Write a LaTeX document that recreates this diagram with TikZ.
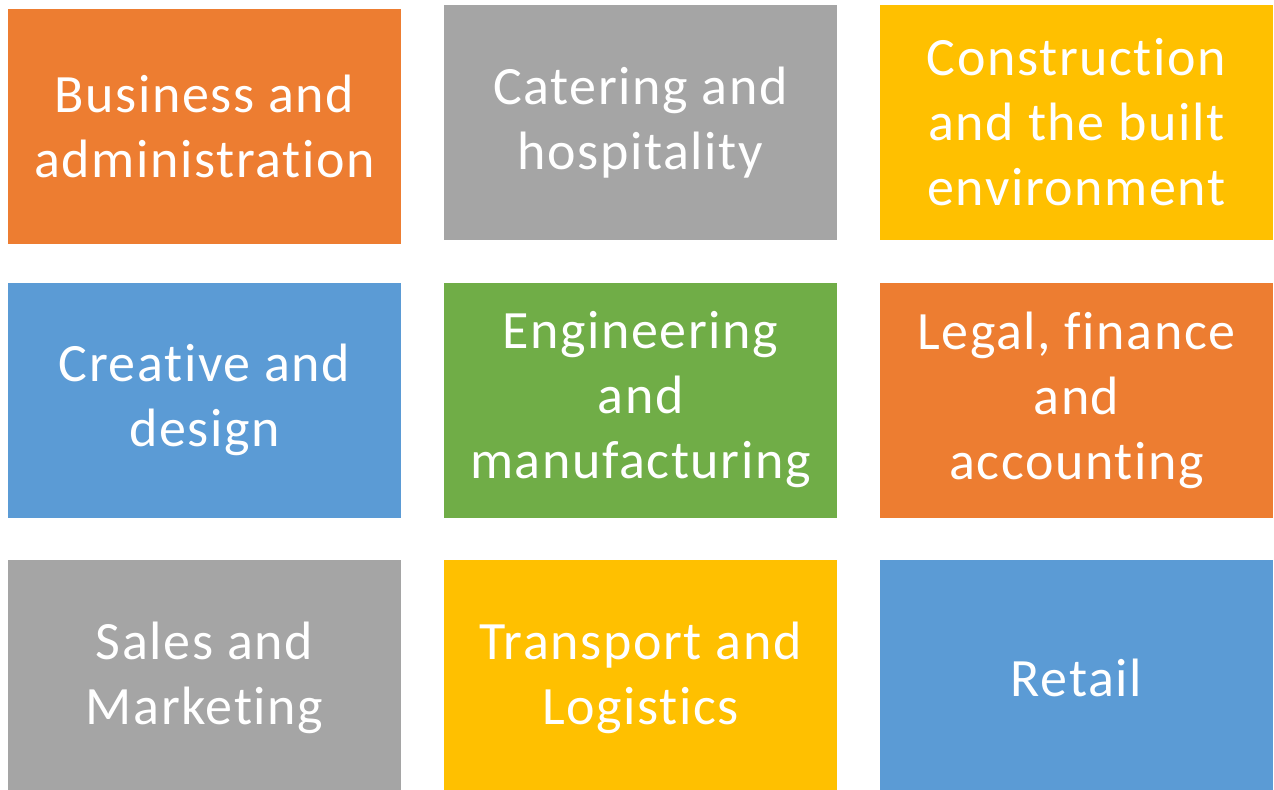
\documentclass[tikz,border=0pt]{standalone}
\usepackage{fontspec}
\setmainfont{Carlito}[Ligatures=NoCommon,LetterSpace=3]
\definecolor{accorange}{HTML}{ED7D31}
\definecolor{accgray}{HTML}{A5A5A5}
\definecolor{accyellow}{HTML}{FFC000}
\definecolor{accblue}{HTML}{5B9BD5}
\definecolor{accgreen}{HTML}{70AD47}
\tikzset{
  sector/.style={fill=#1, text=white, inner sep=0pt, align=center,
    minimum width=196.5pt, minimum height=117.5pt,
    font=\fontsize{27}{32.5}\selectfont}
}
\begin{document}
\begin{tikzpicture}[x=0.5pt,y=-0.5pt]
  \useasboundingbox (0,0) rectangle (1274,789);
  \clip (0,0) rectangle (1274,789);
  % top row
  \node[sector=accorange] (business) at (204.5,126.5) {Business and\\administration};
  \node[sector=accgray] (catering) at (640.5,122.5) {Catering and\\hospitality};
  \node[sector=accyellow] (construction) at (1076.5,122.5) {Construction\\and the built\\environment};
  % middle row
  \node[sector=accblue] (creative) at (204.5,400) {Creative and\\design};
  \node[sector=accgreen] (engineering) at (640.5,400) {Engineering\\and\\manufacturing};
  \node[sector=accorange] (legal) at (1076.5,400) {Legal, finance\\and\\accounting};
  % bottom row, cut off by the page
  \node[sector=accgray] (sales) at (204.5,677.5) {Sales and\\Marketing};
  \node[sector=accyellow] (transport) at (640.5,677.5) {Transport and\\Logistics};
  \node[sector=accblue] (retail) at (1076.5,677.5) {Retail};
\end{tikzpicture}
\end{document}
